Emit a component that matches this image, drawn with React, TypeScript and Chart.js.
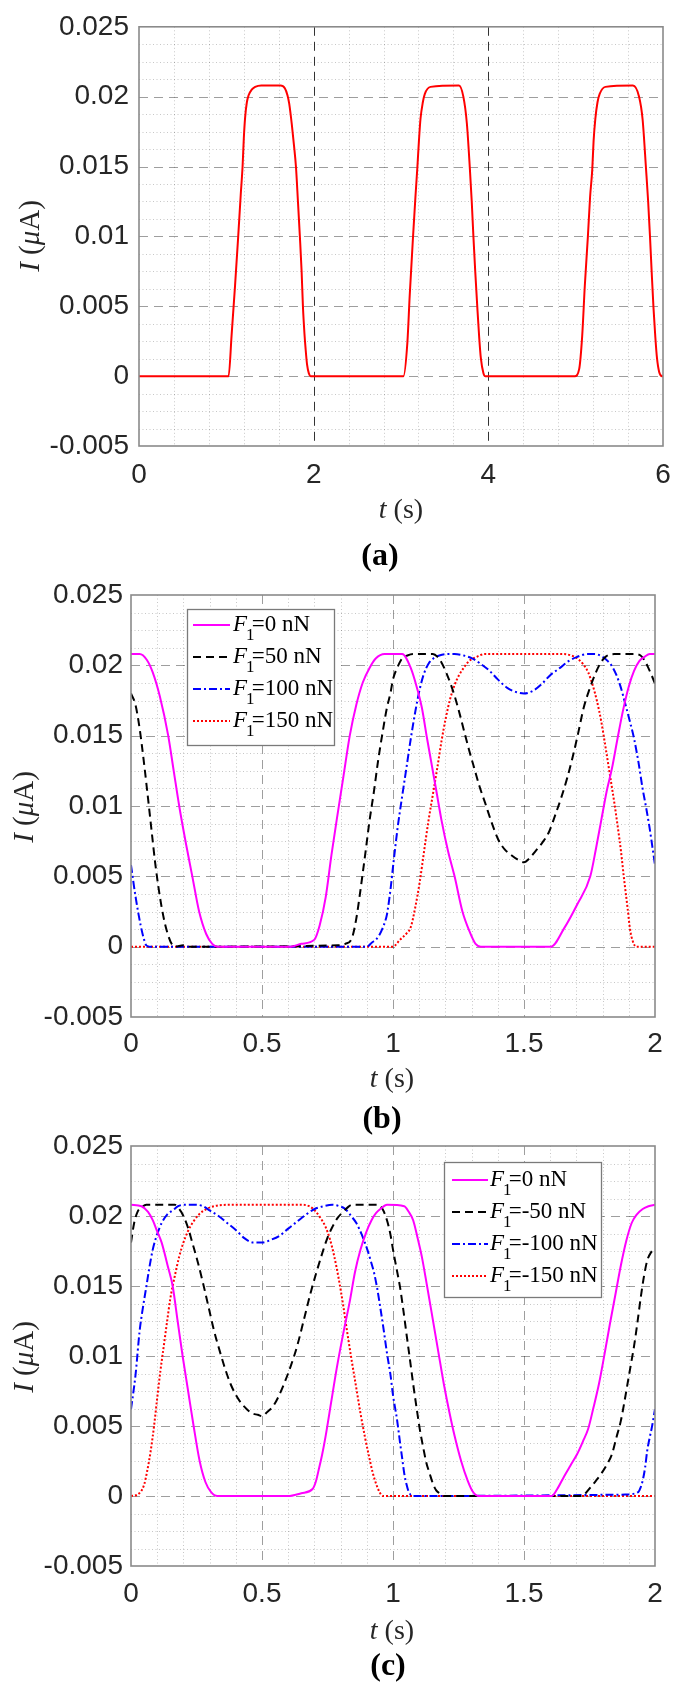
import React, { useEffect, useRef } from 'react';
import { Chart, registerables } from 'chart.js';

Chart.register(...registerables);

// ---------------- DATA ----------------
// Panel (a)
const tA = [0, 1.026, 1.06, 1.10, 1.136, 1.165, 1.186, 1.20, 1.215, 1.235, 1.255, 1.29, 1.33, 1.40, 1.62, 1.67, 1.70, 1.72, 1.75, 1.775, 1.797, 1.82, 1.842, 1.862, 1.877, 1.895, 1.907, 1.925, 1.945, 1.965,
  3.028, 3.073, 3.10, 3.138, 3.165, 3.188, 3.205, 3.223, 3.25, 3.273, 3.338, 3.664, 3.714, 3.754, 3.789, 3.81, 3.829, 3.85, 3.874, 3.895, 3.914, 3.944, 3.964,
  4.99, 5.04, 5.075, 5.105, 5.14, 5.165, 5.19, 5.205, 5.225, 5.25, 5.275, 5.34, 5.656, 5.726, 5.766, 5.806, 5.83, 5.851, 5.87, 5.891, 5.912, 5.931, 5.956, 5.99, 6.0];
const iA = [0, 0, 0.0029, 0.0065, 0.0100, 0.0130, 0.0150, 0.0170, 0.0185, 0.0196, 0.0201, 0.0205, 0.0207, 0.0208, 0.0208, 0.0206, 0.0201, 0.0195, 0.0180, 0.0165, 0.0150, 0.0125, 0.0100, 0.0075, 0.0050, 0.0030, 0.0020, 0.0008, 0.0002, 0,
  0, 0.0024, 0.0058, 0.0100, 0.0128, 0.0150, 0.0168, 0.0184, 0.0196, 0.0202, 0.0207, 0.0208, 0.0200, 0.0181, 0.0148, 0.0125, 0.0100, 0.0075, 0.0049, 0.0028, 0.0013, 0.0002, 0,
  0, 0.0005, 0.0029, 0.0065, 0.0100, 0.0128, 0.0148, 0.0168, 0.0184, 0.0196, 0.0202, 0.0207, 0.0208, 0.0200, 0.0184, 0.0148, 0.0125, 0.0100, 0.0075, 0.0049, 0.0028, 0.0013, 0.0003, 0, 0];

// Panel (b)
const tB0 = [0, 0.033, 0.06, 0.083, 0.11, 0.142, 0.163, 0.184, 0.21, 0.234, 0.26, 0.287, 0.31, 0.33, 0.61, 0.65, 0.70, 0.72, 0.743, 0.765, 0.785, 0.81, 0.835, 0.86, 0.885, 0.91, 0.935, 0.968, 1.035, 1.068, 1.09, 1.11, 1.13, 1.15, 1.168, 1.185, 1.21, 1.235, 1.265, 1.294, 1.315, 1.335, 1.603, 1.653, 1.703, 1.753, 1.775, 1.795, 1.815, 1.836, 1.857, 1.878, 1.90, 1.92, 1.94, 1.96, 1.98, 2];
const iB0 = [0.0208, 0.0208, 0.0204, 0.0195, 0.0178, 0.015, 0.0125, 0.010, 0.0073, 0.005, 0.0025, 0.0009, 0.0002, 0, 0, 0.0002, 0.0005, 0.0015, 0.0035, 0.0065, 0.009, 0.012, 0.015, 0.0172, 0.0188, 0.0198, 0.0205, 0.0208, 0.0208, 0.0198, 0.0185, 0.017, 0.0148, 0.0127, 0.0108, 0.009, 0.0068, 0.005, 0.0025, 0.001, 0.0002, 0, 0, 0.0013, 0.003, 0.005, 0.007, 0.009, 0.011, 0.0127, 0.0148, 0.0168, 0.0185, 0.0196, 0.0203, 0.0206, 0.0208, 0.0208];

const tB1 = [0, 0.017, 0.033, 0.05, 0.067, 0.08, 0.092, 0.105, 0.117, 0.13, 0.142, 0.155, 0.167, 0.2, 0.22, 0.79, 0.818, 0.843, 0.86, 0.872, 0.885, 0.897, 0.91, 0.927, 0.943, 0.96, 0.977, 0.99, 1.0, 1.018, 1.035, 1.055, 1.077, 1.152, 1.17, 1.185, 1.205, 1.227, 1.248, 1.269, 1.29, 1.31, 1.33, 1.352, 1.377, 1.402, 1.427, 1.452, 1.475, 1.5, 1.522, 1.544, 1.57, 1.594, 1.62, 1.644, 1.665, 1.686, 1.707, 1.728, 1.75, 1.77, 1.79, 1.811, 1.845, 1.92, 1.945, 1.962, 1.975, 1.987, 2];
const iB1 = [0.018, 0.0172, 0.0155, 0.013, 0.0102, 0.008, 0.006, 0.0042, 0.0028, 0.0016, 0.0008, 0.0002, 0, 0.0001, 0, 0.0001, 0.0002, 0.0006, 0.002, 0.0035, 0.0053, 0.007, 0.0089, 0.011, 0.0132, 0.0152, 0.017, 0.018, 0.019, 0.0199, 0.0205, 0.0207, 0.0208, 0.0208, 0.0206, 0.0202, 0.0194, 0.0183, 0.017, 0.0155, 0.014, 0.0127, 0.0114, 0.0102, 0.0088, 0.0076, 0.0069, 0.0065, 0.0062, 0.006, 0.0063, 0.0068, 0.0074, 0.0081, 0.0094, 0.0107, 0.012, 0.0135, 0.0152, 0.017, 0.0183, 0.0193, 0.0201, 0.0206, 0.0208, 0.0208, 0.0207, 0.0203, 0.0198, 0.0193, 0.0187];

const tB2 = [0, 0.017, 0.037, 0.05, 0.058, 0.07, 0.9, 0.92, 0.935, 0.95, 0.96, 0.97, 0.977, 0.99, 1.002, 1.018, 1.035, 1.052, 1.068, 1.085, 1.102, 1.118, 1.135, 1.155, 1.177, 1.21, 1.235, 1.27, 1.302, 1.335, 1.369, 1.40, 1.436, 1.47, 1.5, 1.535, 1.569, 1.60, 1.636, 1.67, 1.703, 1.74, 1.77, 1.80, 1.82, 1.837, 1.853, 1.87, 1.886, 1.903, 1.92, 1.937, 1.953, 1.966, 1.978, 1.99, 2];
const iB2 = [0.0058, 0.0036, 0.0015, 0.0005, 0.0001, 0, 0, 0.0003, 0.0005, 0.0009, 0.0013, 0.0018, 0.0023, 0.004, 0.006, 0.0085, 0.0107, 0.0128, 0.0148, 0.0167, 0.0183, 0.0194, 0.0201, 0.0205, 0.0207, 0.0208, 0.0208, 0.0207, 0.0205, 0.0201, 0.0196, 0.019, 0.0184, 0.0181, 0.018, 0.0182, 0.0187, 0.0193, 0.0198, 0.0203, 0.0206, 0.0208, 0.0208, 0.0206, 0.0203, 0.0199, 0.0193, 0.0184, 0.0173, 0.0161, 0.0148, 0.0131, 0.0112, 0.0099, 0.0086, 0.0071, 0.0058];

const tB3 = [0, 1.0, 1.027, 1.05, 1.068, 1.085, 1.102, 1.118, 1.135, 1.152, 1.169, 1.185, 1.202, 1.218, 1.235, 1.252, 1.269, 1.29, 1.319, 1.35, 1.653, 1.68, 1.703, 1.725, 1.745, 1.762, 1.778, 1.795, 1.811, 1.828, 1.845, 1.858, 1.87, 1.882, 1.895, 1.905, 1.915, 1.928, 2];
const iB3 = [0, 0, 0.0005, 0.0009, 0.0014, 0.0028, 0.0046, 0.0067, 0.0089, 0.0108, 0.0127, 0.0146, 0.0163, 0.0176, 0.0186, 0.0193, 0.0198, 0.0203, 0.0206, 0.0208, 0.0208, 0.0207, 0.0205, 0.0201, 0.0195, 0.0186, 0.0175, 0.016, 0.0142, 0.0122, 0.0102, 0.0085, 0.0068, 0.0048, 0.0028, 0.0012, 0.0004, 0, 0];

// Panel (c)
const tC0 = [0, 0.04, 0.065, 0.083, 0.1, 0.117, 0.142, 0.159, 0.178, 0.197, 0.218, 0.239, 0.262, 0.284, 0.305, 0.33, 0.6, 0.65, 0.693, 0.705, 0.718, 0.73, 0.743, 0.764, 0.785, 0.81, 0.835, 0.855, 0.876, 0.897, 0.918, 0.935, 0.952, 0.977, 1.043, 1.06, 1.077, 1.093, 1.11, 1.13, 1.152, 1.173, 1.194, 1.215, 1.235, 1.26, 1.285, 1.305, 1.327, 1.606, 1.63, 1.653, 1.678, 1.703, 1.725, 1.745, 1.765, 1.786, 1.807, 1.828, 1.85, 1.87, 1.89, 1.911, 1.93, 1.953, 1.975, 2];
const iC0 = [0.0208, 0.0207, 0.0203, 0.0197, 0.0189, 0.0181, 0.0163, 0.015, 0.0125, 0.010, 0.0075, 0.005, 0.0025, 0.001, 0.0003, 0, 0, 0.0002, 0.0005, 0.001, 0.002, 0.003, 0.0043, 0.0067, 0.0091, 0.0116, 0.0139, 0.016, 0.0176, 0.0188, 0.0197, 0.0202, 0.0205, 0.0208, 0.0207, 0.0203, 0.0197, 0.0185, 0.0171, 0.015, 0.0126, 0.0103, 0.008, 0.006, 0.0043, 0.0025, 0.0011, 0.0003, 0, 0, 0.0006, 0.0014, 0.0022, 0.003, 0.0039, 0.0048, 0.0063, 0.008, 0.0101, 0.0123, 0.0145, 0.0165, 0.0182, 0.0195, 0.0201, 0.0205, 0.0207, 0.0208];

const tC1 = [0, 0.012, 0.025, 0.04, 0.058, 0.167, 0.184, 0.2, 0.217, 0.234, 0.255, 0.275, 0.296, 0.317, 0.338, 0.359, 0.38, 0.401, 0.422, 0.442, 0.463, 0.484, 0.5, 0.52, 0.542, 0.563, 0.584, 0.61, 0.634, 0.66, 0.684, 0.705, 0.726, 0.747, 0.768, 0.79, 0.81, 0.826, 0.843, 0.943, 0.96, 0.977, 0.99, 1.0, 1.014, 1.027, 1.04, 1.052, 1.065, 1.077, 1.09, 1.102, 1.115, 1.127, 1.14, 1.152, 1.165, 1.177, 1.194, 1.72, 1.735, 1.753, 1.775, 1.795, 1.815, 1.836, 1.853, 1.87, 1.883, 1.895, 1.908, 1.92, 1.933, 1.945, 1.958, 1.97, 1.985, 2];
const iC1 = [0.0181, 0.0195, 0.0203, 0.0206, 0.0208, 0.0208, 0.0205, 0.02, 0.0192, 0.0181, 0.0167, 0.0152, 0.0135, 0.0118, 0.0104, 0.0091, 0.008, 0.0072, 0.0066, 0.0062, 0.0059, 0.0058, 0.0057, 0.006, 0.0064, 0.0071, 0.008, 0.0093, 0.0107, 0.0126, 0.0144, 0.0158, 0.0171, 0.0183, 0.0192, 0.0199, 0.0203, 0.0206, 0.0208, 0.0208, 0.0205, 0.0197, 0.0187, 0.0176, 0.0162, 0.0149, 0.0132, 0.0115, 0.0097, 0.008, 0.0063, 0.0048, 0.0035, 0.0024, 0.0016, 0.0009, 0.0004, 0.0002, 0, 0, 0.0002, 0.0006, 0.0011, 0.0016, 0.0022, 0.003, 0.0042, 0.0054, 0.0067, 0.008, 0.0094, 0.0107, 0.0124, 0.0141, 0.0157, 0.0168, 0.0174, 0.0177];

const tC2 = [0, 0.017, 0.033, 0.045, 0.058, 0.07, 0.083, 0.1, 0.117, 0.138, 0.159, 0.18, 0.2, 0.25, 0.275, 0.3, 0.334, 0.367, 0.4, 0.434, 0.467, 0.5, 0.534, 0.568, 0.6, 0.634, 0.668, 0.701, 0.735, 0.768, 0.795, 0.818, 0.84, 0.86, 0.88, 0.902, 0.915, 0.927, 0.94, 0.952, 0.965, 0.977, 0.99, 1.0, 1.015, 1.027, 1.035, 1.043, 1.052, 1.06, 1.077, 1.886, 1.937, 1.945, 1.953, 1.962, 1.97, 1.98, 1.987, 2];
const iC2 = [0.0062, 0.0086, 0.0118, 0.0134, 0.0149, 0.0163, 0.0176, 0.0187, 0.0195, 0.0201, 0.0204, 0.0207, 0.0208, 0.0208, 0.0207, 0.0204, 0.02, 0.0195, 0.019, 0.0184, 0.0181, 0.0181, 0.0183, 0.0186, 0.0191, 0.0196, 0.0201, 0.0205, 0.0207, 0.0208, 0.0207, 0.0205, 0.02, 0.0195, 0.0187, 0.0176, 0.0168, 0.016, 0.0148, 0.0134, 0.0118, 0.0102, 0.0087, 0.0072, 0.0055, 0.0038, 0.0027, 0.0016, 0.0008, 0.0003, 0, 0.0001, 0.0003, 0.0006, 0.0011, 0.002, 0.0032, 0.0042, 0.0048, 0.0062];

const tC3 = [0, 0.025, 0.05, 0.062, 0.075, 0.088, 0.1, 0.112, 0.125, 0.138, 0.15, 0.167, 0.184, 0.2, 0.217, 0.238, 0.259, 0.288, 0.317, 0.367, 0.651, 0.68, 0.701, 0.722, 0.743, 0.76, 0.776, 0.793, 0.81, 0.826, 0.843, 0.86, 0.876, 0.893, 0.91, 0.922, 0.935, 0.948, 0.96, 2];
const iC3 = [0, 0.0001, 0.0008, 0.0018, 0.0032, 0.005, 0.007, 0.0089, 0.0107, 0.0125, 0.0141, 0.0157, 0.0171, 0.0181, 0.0189, 0.0196, 0.0201, 0.0205, 0.0207, 0.0208, 0.0208, 0.0207, 0.0204, 0.0199, 0.0192, 0.0183, 0.0171, 0.0155, 0.0136, 0.0116, 0.0096, 0.0077, 0.0059, 0.0042, 0.0027, 0.0017, 0.0009, 0.0003, 0, 0];

// Ticks and labels
const yTickValues = [-0.005, 0, 0.005, 0.01, 0.015, 0.02, 0.025];
const yTickLabels = ['-0.005', '0', '0.005', '0.01', '0.015', '0.02', '0.025'];
const xTickValuesA = [0, 2, 4, 6];
const xTickLabelsA = ['0', '2', '4', '6'];
const xTickValuesBC = [0, 0.5, 1, 1.5, 2];
const xTickLabelsBC = ['0', '0.5', '1', '1.5', '2'];
const legendLabelsB = ['0 nN', '50 nN', '100 nN', '150 nN'];
const legendLabelsC = ['0 nN', '-50 nN', '-100 nN', '-150 nN'];
const panelLabels = ['(a)', '(b)', '(c)'];

// ---------------- STYLE ----------------
const SANS = '"Liberation Sans", Arial, Helvetica, sans-serif';
const SERIF = '"Liberation Serif", "Times New Roman", Times, serif';
const TICK_COLOR = '#262626';
const TICK_SIZE = 28;
const seriesStyles = [
  { color: '#ff00ff', dash: [] as number[] },
  { color: '#000000', dash: [8, 5] },
  { color: '#0000ff', dash: [8, 3, 2, 3] },
  { color: '#ff0000', dash: [2, 2] },
];

type Panel = {
  top: number; h: number; padTop: number; padRight: number; yWidth: number; xHeight: number;
  xMin: number; xMax: number; xTicks: number[]; xLabels: string[]; xTickPad: number; yTickPad: number;
  xMinorStep: number; darkV: boolean;
  series: { t: number[]; i: number[]; color: string; dash: number[] }[];
  xTitle: [number, number]; yTitle: [number, number]; label: string; labelPos: [number, number];
  legend?: { labels: string[]; x0: number; y0: number; x1: number; y1: number; lx0: number; lx1: number; tx: number; rows: number[] };
};

function drawMixed(ctx: CanvasRenderingContext2D, parts: { s: string; italic: boolean }[], size: number, cx: number, cy: number, rotate: boolean) {
  ctx.save();
  ctx.translate(cx, cy);
  if (rotate) ctx.rotate(-Math.PI / 2);
  let total = 0;
  const widths = parts.map((p) => {
    ctx.font = `${p.italic ? 'italic ' : ''}${size}px ${SERIF}`;
    const w = ctx.measureText(p.s).width;
    total += w;
    return w;
  });
  let x = -total / 2;
  ctx.fillStyle = TICK_COLOR;
  ctx.textBaseline = 'middle';
  ctx.textAlign = 'left';
  parts.forEach((p, k) => {
    ctx.font = `${p.italic ? 'italic ' : ''}${size}px ${SERIF}`;
    ctx.fillText(p.s, x, 0);
    x += widths[k];
  });
  ctx.restore();
}

function makePlugin(p: Panel) {
  return {
    id: 'matlabFrame',
    beforeDatasetsDraw(chart: any) {
      const { ctx, chartArea: ca, scales } = chart;
      const xs = scales.x, ys = scales.y;
      ctx.save();
      ctx.lineWidth = 1;
      // minor grid (dotted)
      ctx.strokeStyle = 'rgba(0,0,0,0.22)';
      ctx.setLineDash([1, 2.5]);
      const nx = Math.round((p.xMax - p.xMin) / p.xMinorStep);
      const majorEvery = Math.round((p.xTicks[1] - p.xTicks[0]) / p.xMinorStep);
      for (let k = 1; k < nx; k++) {
        if (k % majorEvery === 0) continue;
        const px = Math.round(xs.getPixelForValue(p.xMin + k * p.xMinorStep)) + 0.5;
        ctx.beginPath(); ctx.moveTo(px, ca.top); ctx.lineTo(px, ca.bottom); ctx.stroke();
      }
      const yStep = 0.00125;
      const ny = Math.round(0.03 / yStep);
      for (let k = 1; k < ny; k++) {
        if (k % 4 === 0) continue;
        const py = Math.round(ys.getPixelForValue(-0.005 + k * yStep)) + 0.5;
        ctx.beginPath(); ctx.moveTo(ca.left, py); ctx.lineTo(ca.right, py); ctx.stroke();
      }
      // major grid (dashed)
      ctx.setLineDash([9, 6]);
      ctx.strokeStyle = 'rgba(0,0,0,0.38)';
      yTickValues.slice(1, -1).forEach((v) => {
        const py = Math.round(ys.getPixelForValue(v)) + 0.5;
        ctx.beginPath(); ctx.moveTo(ca.left, py); ctx.lineTo(ca.right, py); ctx.stroke();
      });
      ctx.strokeStyle = p.darkV ? 'rgba(0,0,0,0.8)' : 'rgba(0,0,0,0.38)';
      p.xTicks.slice(1, -1).forEach((v) => {
        const px = Math.round(xs.getPixelForValue(v)) + 0.5;
        ctx.beginPath(); ctx.moveTo(px, ca.top); ctx.lineTo(px, ca.bottom); ctx.stroke();
      });
      ctx.restore();
    },
    afterDatasetsDraw(chart: any) {
      const { ctx, chartArea: ca } = chart;
      ctx.save();
      ctx.setLineDash([]);
      ctx.strokeStyle = '#8a8a8a';
      ctx.lineWidth = 1.6;
      ctx.strokeRect(ca.left, ca.top, ca.right - ca.left, ca.bottom - ca.top);
      ctx.restore();
    },
    afterDraw(chart: any) {
      const { ctx } = chart;
      const off = p.top;
      // axis titles
      drawMixed(ctx, [{ s: 't', italic: true }, { s: ' (s)', italic: false }], 28, p.xTitle[0], p.xTitle[1] - off, false);
      drawMixed(ctx, [{ s: 'I', italic: true }, { s: ' (', italic: false }, { s: 'μ', italic: true }, { s: 'A)', italic: false }], 29, p.yTitle[0], p.yTitle[1] - off, true);
      // panel label
      ctx.save();
      ctx.font = `bold 32px ${SERIF}`;
      ctx.fillStyle = '#000';
      ctx.textAlign = 'center';
      ctx.textBaseline = 'middle';
      ctx.fillText(p.label, p.labelPos[0], p.labelPos[1] - off);
      ctx.restore();
      // legend
      if (p.legend) {
        const L = p.legend;
        ctx.save();
        ctx.fillStyle = '#ffffff';
        ctx.fillRect(L.x0, L.y0 - off, L.x1 - L.x0, L.y1 - L.y0);
        ctx.strokeStyle = '#7a7a7a';
        ctx.lineWidth = 1.3;
        ctx.setLineDash([]);
        ctx.strokeRect(L.x0 + 0.5, L.y0 - off + 0.5, L.x1 - L.x0, L.y1 - L.y0);
        L.labels.forEach((lab, k) => {
          const st = seriesStyles[k];
          const ly = L.rows[k] - off;
          ctx.strokeStyle = st.color;
          ctx.lineWidth = 2;
          ctx.setLineDash(st.dash);
          ctx.beginPath(); ctx.moveTo(L.lx0, ly); ctx.lineTo(L.lx1, ly); ctx.stroke();
          ctx.setLineDash([]);
          ctx.fillStyle = '#000';
          ctx.textAlign = 'left';
          ctx.textBaseline = 'alphabetic';
          const base = ly + 6;
          let x = L.tx;
          ctx.font = `italic 23px ${SERIF}`;
          ctx.fillText('F', x, base);
          x += ctx.measureText('F').width;
          ctx.font = `17px ${SERIF}`;
          ctx.fillText('1', x - 1, base + 9);
          x += ctx.measureText('1').width * 0.55;
          ctx.font = `23px ${SERIF}`;
          ctx.fillText('=' + lab, x, base);
        });
        ctx.restore();
      }
    },
  };
}

function makeConfig(p: Panel): any {
  return {
    type: 'line',
    data: {
      datasets: p.series.map((s) => ({
        data: s.t.map((t, k) => ({ x: t, y: s.i[k] })),
        borderColor: s.color,
        borderWidth: 2,
        borderDash: s.dash,
        pointRadius: 0,
        fill: false,
        cubicInterpolationMode: 'monotone',
      })),
    },
    options: {
      responsive: false,
      animation: false,
      devicePixelRatio: 1,
      layout: { padding: { left: 0, top: p.padTop, right: p.padRight, bottom: 0 } },
      plugins: { legend: { display: false }, tooltip: { enabled: false } },
      scales: {
        x: {
          type: 'linear',
          min: p.xMin,
          max: p.xMax,
          afterBuildTicks: (s: any) => { s.ticks = p.xTicks.map((v) => ({ value: v })); },
          afterFit: (s: any) => { s.height = p.xHeight; },
          ticks: {
            autoSkip: false, maxRotation: 0, padding: p.xTickPad, color: TICK_COLOR,
            font: { family: SANS, size: TICK_SIZE },
            callback: (_v: any, idx: number) => p.xLabels[idx],
          },
          grid: { display: false, drawTicks: false },
          border: { display: false },
        },
        y: {
          type: 'linear',
          min: -0.005,
          max: 0.025,
          afterBuildTicks: (s: any) => { s.ticks = yTickValues.map((v) => ({ value: v })); },
          afterFit: (s: any) => { s.width = p.yWidth; },
          ticks: {
            autoSkip: false, padding: p.yTickPad, color: TICK_COLOR,
            font: { family: SANS, size: TICK_SIZE },
            callback: (_v: any, idx: number) => yTickLabels[idx],
          },
          grid: { display: false, drawTicks: false },
          border: { display: false },
        },
      },
    },
    plugins: [makePlugin(p)],
  };
}

const panels: Panel[] = [
  {
    top: 0, h: 580, padTop: 24, padRight: 22, yWidth: 139, xHeight: 134,
    xMin: 0, xMax: 6, xTicks: xTickValuesA, xLabels: xTickLabelsA, xTickPad: 12, yTickPad: 10,
    xMinorStep: 0.4, darkV: true,
    series: [{ t: tA, i: iA, color: '#ff0000', dash: [] }],
    xTitle: [401, 511], yTitle: [31, 236], label: panelLabels[0], labelPos: [380, 557],
  },
  {
    top: 560, h: 590, padTop: 35, padRight: 30, yWidth: 131, xHeight: 133,
    xMin: 0, xMax: 2, xTicks: xTickValuesBC, xLabels: xTickLabelsBC, xTickPad: 10, yTickPad: 8,
    xMinorStep: 0.1, darkV: false,
    series: [
      { t: tB0, i: iB0, ...seriesStyles[0] },
      { t: tB1, i: iB1, ...seriesStyles[1] },
      { t: tB2, i: iB2, ...seriesStyles[2] },
      { t: tB3, i: iB3, ...seriesStyles[3] },
    ],
    xTitle: [392, 1080], yTitle: [25, 807], label: panelLabels[1], labelPos: [382, 1120],
    legend: { labels: legendLabelsB, x0: 187, y0: 609, x1: 334, y1: 745, lx0: 193, lx1: 230, tx: 233, rows: [625, 657, 689, 721] },
  },
  {
    top: 1100, h: 585, padTop: 46, padRight: 30, yWidth: 131, xHeight: 119,
    xMin: 0, xMax: 2, xTicks: xTickValuesBC, xLabels: xTickLabelsBC, xTickPad: 11, yTickPad: 8,
    xMinorStep: 0.1, darkV: false,
    series: [
      { t: tC0, i: iC0, ...seriesStyles[0] },
      { t: tC1, i: iC1, ...seriesStyles[1] },
      { t: tC2, i: iC2, ...seriesStyles[2] },
      { t: tC3, i: iC3, ...seriesStyles[3] },
    ],
    xTitle: [392, 1632], yTitle: [25, 1357], label: panelLabels[2], labelPos: [388, 1667],
    legend: { labels: legendLabelsC, x0: 444, y0: 1162, x1: 601, y1: 1297, lx0: 452, lx1: 488, tx: 490, rows: [1180, 1212, 1244, 1276] },
  },
];

function ChartPanel({ panel }: { panel: Panel }) {
  const ref = useRef<HTMLCanvasElement>(null);
  useEffect(() => {
    const chart = new Chart(ref.current as HTMLCanvasElement, makeConfig(panel));
    return () => chart.destroy();
  }, [panel]);
  return (
    <canvas
      ref={ref}
      width={685}
      height={panel.h}
      style={{ position: 'absolute', left: 0, top: panel.top, width: 685, height: panel.h }}
    />
  );
}

export default function App() {
  return (
    <div style={{ position: 'absolute', left: 0, top: 0, width: 685, height: 1685, background: '#ffffff', overflow: 'hidden' }}>
      {panels.map((p, k) => (
        <ChartPanel key={k} panel={p} />
      ))}
    </div>
  );
}
